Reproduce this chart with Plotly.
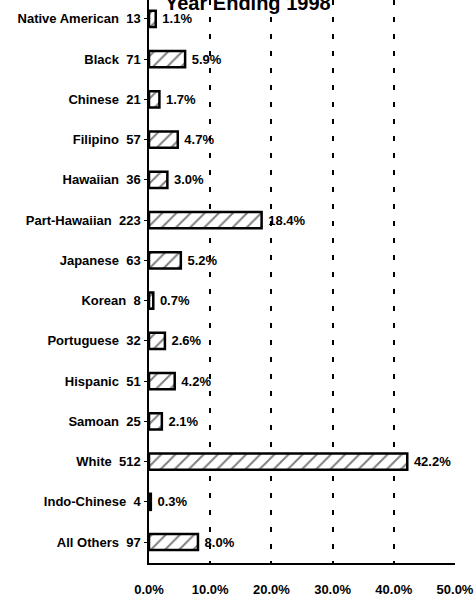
import plotly.graph_objects as go

categories = ["Native American", "Black", "Chinese", "Filipino", "Hawaiian",
              "Part-Hawaiian", "Japanese", "Korean", "Portuguese", "Hispanic",
              "Samoan", "White", "Indo-Chinese", "All Others"]
counts = [13, 71, 21, 57, 36, 223, 63, 8, 32, 51, 25, 512, 4, 97]
percents = [1.1, 5.9, 1.7, 4.7, 3.0, 18.4, 5.2, 0.7, 2.6, 4.2, 2.1, 42.2, 0.3, 8.0]
x_ticks = [0, 10, 20, 30, 40, 50]
x_tick_labels = ["0.0%", "10.0%", "20.0%", "30.0%", "40.0%", "50.0%"]
title_text = "Year Ending 1998"

FONT = "Liberation Sans"

y_labels = [f"{c}  {n}" for c, n in zip(categories, counts)]
pos = list(range(len(categories)))

fig = go.Figure()
fig.add_trace(go.Bar(
    y=pos,
    x=percents,
    orientation="h",
    width=0.4,
    marker=dict(
        color="white",
        line=dict(color="black", width=2.5),
        pattern=dict(shape="/", fgcolor="black", bgcolor="white", size=10, solidity=0.2),
    ),
    text=["\u00a0" + f"{p:.1f}%" for p in percents],
    textposition="outside",
    textfont=dict(family=FONT, size=13, color="black", weight="bold"),
    cliponaxis=False,
    showlegend=False,
))

fig.update_layout(
    width=476, height=597,
    margin=dict(l=149, r=21, t=0, b=34, autoexpand=False),
    paper_bgcolor="white", plot_bgcolor="white",
    font=dict(family=FONT, size=13, color="black"),
    xaxis=dict(
        range=[0, 50],
        tickvals=x_ticks, ticktext=x_tick_labels,
        showgrid=True, gridcolor="black", griddash="5px,12px", gridwidth=1.5,
        zeroline=False, automargin=False,
        showline=True, linecolor="black", linewidth=2,
        ticks="outside", ticklen=13, tickcolor="rgba(0,0,0,0)",
        tickfont=dict(family=FONT, size=13, color="black", weight="bold"),
    ),
    yaxis=dict(
        range=[13.52, -0.47],
        tickvals=pos, ticktext=y_labels,
        showgrid=False, zeroline=False, automargin=False,
        showline=True, linecolor="black", linewidth=1.5,
        ticks="outside", ticklen=3, tickson="boundaries", tickcolor="black",
        tickfont=dict(family=FONT, size=13, color="black", weight="bold"),
        ticklabelstandoff=1,
    ),
    annotations=[dict(
        text=f"<b>{title_text}</b>", xref="paper", yref="paper",
        x=0.324, y=1, xanchor="center", yanchor="middle", yshift=-3,
        showarrow=False, font=dict(family=FONT, size=20, color="black"),
    )],
)

fig.write_html(
    "out.html",
    config={"displayModeBar": False},
    post_script="document.body.style.margin='0';document.body.style.padding='0';",
)
